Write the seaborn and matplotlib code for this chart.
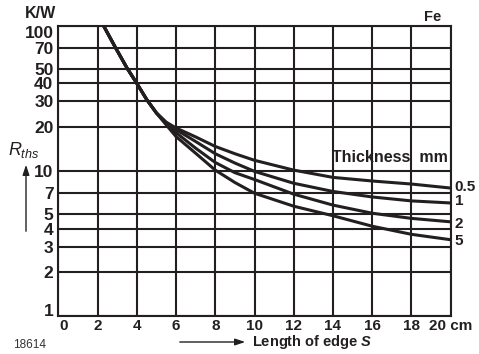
import numpy as np
import pandas as pd
import matplotlib
matplotlib.use("Agg")
import matplotlib.pyplot as plt
import matplotlib.transforms as mtransforms
import seaborn as sns

# shared part of the curve (all thicknesses coincide here)
edge_common = [2.3, 2.9, 3.5, 4.0, 4.5, 5.0]
rth_common = [100, 71, 51, 40, 31, 25]

# separate branches, read at the grid lines
edge_cm = [5.5, 6, 7, 8, 9, 10, 12, 14, 16, 18, 20]
rth_05 = [21.6, 19.7, 17.1, 14.7, 13.1, 11.8, 10.1, 9.0, 8.5, 8.1, 7.6]
rth_1 = [21.4, 19.2, 15.9, 13.1, 11.3, 9.9, 8.2, 7.2, 6.6, 6.2, 6.0]
rth_2 = [21.1, 18.3, 14.3, 11.4, 9.7, 8.7, 6.9, 5.8, 5.1, 4.7, 4.45]
rth_5 = [20.7, 17.2, 13.2, 10.1, 8.3, 7.0, 5.7, 4.9, 4.15, 3.65, 3.35]

thickness = ["0.5", "1", "2", "5"]
label_y = [7.75, 6.15, 4.3, 3.3]

y_ticks = [1, 2, 3, 4, 5, 7, 10, 20, 30, 40, 50, 70, 100]
x_ticks = [0, 2, 4, 6, 8, 10, 12, 14, 16, 18, 20]

INK = "#231f20"

sns.set_style("white")
plt.rcParams["font.family"] = ["Liberation Sans", "DejaVu Sans"]
plt.rcParams["mathtext.fontset"] = "custom"
plt.rcParams["mathtext.it"] = "Liberation Sans:italic"
plt.rcParams["mathtext.bfit"] = "Liberation Sans:italic:bold"
plt.rcParams["mathtext.rm"] = "Liberation Sans"

frames = []
for name, vals in zip(thickness, [rth_05, rth_1, rth_2, rth_5]):
    frames.append(pd.DataFrame({
        "edge": edge_common + edge_cm,
        "rth": rth_common + vals,
        "thickness": name,
    }))
df = pd.concat(frames, ignore_index=True)

fig = plt.figure(figsize=(4.79, 3.54), dpi=100)
ax = fig.add_axes([58.3 / 479, 1 - 316 / 354, (450.7 - 58.3) / 479, (316 - 25.5) / 354])

sns.lineplot(data=df, x="edge", y="rth", hue="thickness", units="thickness",
             estimator=None, palette=[INK] * 4, linewidth=2.2, legend=False,
             sort=False, ax=ax, zorder=3, solid_joinstyle="round")

ax.set_yscale("log")
ax.set_xlim(0, 20)
ax.set_ylim(1, 100)
ax.set_yticks(y_ticks)
ax.set_yticklabels([str(t) for t in y_ticks])
ax.yaxis.set_minor_locator(matplotlib.ticker.NullLocator())
ax.set_xticks(x_ticks)
ax.set_xticklabels([str(t) for t in x_ticks[:-1]] + ["20 cm"])
ax.tick_params(length=0, colors=INK)
ax.tick_params(axis="y", pad=3.5, labelsize=12.5)
ax.tick_params(axis="x", pad=2.5, labelsize=11)
for lbl in ax.get_xticklabels() + ax.get_yticklabels():
    lbl.set_fontweight("bold")


def nudge(lbl, dx, dy):
    lbl.set_transform(lbl.get_transform() +
                      mtransforms.ScaledTranslation(dx / 100, dy / 100, fig.dpi_scale_trans))


# end labels sit inside the frame, as in the original
nudge(ax.get_yticklabels()[-1], 0, -6)
nudge(ax.get_yticklabels()[0], 0, 6)
nudge(ax.get_xticklabels()[0], 5, 0)

ax.grid(True, which="major", color=INK, linewidth=1.5)
for sp in ax.spines.values():
    sp.set_color(INK)
    sp.set_linewidth(1.5)
ax.set_xlabel("")
ax.set_ylabel("")

# curve labels on the right
for name, yv in zip(thickness, label_y):
    ax.annotate(name, xy=(20, yv), xytext=(3, 0), textcoords="offset points",
                ha="left", va="center", fontsize=11, fontweight="bold",
                color=INK, annotation_clip=False)

ax.text(19.85, 10.9, "Thickness  mm", ha="right", va="bottom", fontsize=11.5,
        fontweight="bold", color=INK)

# figure-level texts (pixel positions)
def px(x, y):
    return x / 479, 1 - y / 354

fig.text(*px(56, 14), "K/W", ha="right", va="center", fontsize=11.5, fontweight="bold", color=INK)
fig.text(*px(433, 17), "Fe", ha="center", va="center", fontsize=10.5, fontweight="bold", color=INK)
fig.text(*px(24, 150), r"$\mathit{R}_{\mathit{ths}}$", ha="center", va="center", fontsize=13, color=INK)
fig.text(*px(252, 342), "Length of edge $\\mathbfit{S}$", ha="left", va="center",
         fontsize=10.5, fontweight="bold", color=INK)
fig.text(*px(13, 345), "18614", ha="left", va="center", fontsize=8.5, color="#333333")

ax.annotate("", xy=px(26, 162), xytext=px(26, 234), xycoords="figure fraction",
            textcoords="figure fraction",
            arrowprops=dict(arrowstyle="-|>,head_length=0.6,head_width=0.2", color=INK, lw=1.0))
ax.annotate("", xy=px(248, 342), xytext=px(177, 342), xycoords="figure fraction",
            textcoords="figure fraction",
            arrowprops=dict(arrowstyle="-|>,head_length=0.6,head_width=0.2", color=INK, lw=1.0))

fig.savefig("out.png", dpi=100)
